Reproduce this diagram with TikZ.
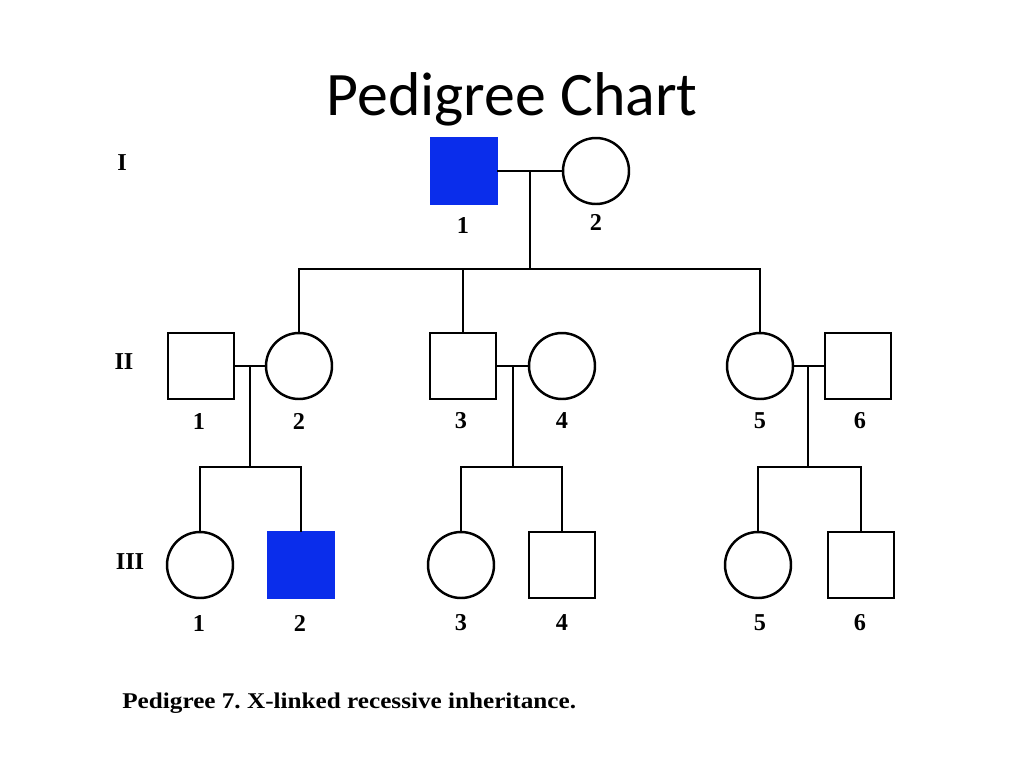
\documentclass[tikz,border=0pt]{standalone}
\usepackage{fontspec}
\setmainfont{Liberation Serif}
\newfontfamily\titleFont{Carlito}
\definecolor{affectedBlue}{RGB}{10,45,235}
\tikzset{
  person/.style={draw,line width=1.4pt,inner sep=0pt,outer sep=0pt,minimum size=1.32cm},
  male/.style={person,rectangle},
  female/.style={person,circle},
  affected/.style={fill=affectedBlue,draw=affectedBlue},
  num/.style={font=\fontsize{13.8}{15}\selectfont\bfseries,inner sep=0pt},
  link/.style={line width=1.5pt},
}
\begin{document}
\begin{tikzpicture}[x=0.02cm,y=-0.02cm]
  \useasboundingbox (0,0) rectangle (1024,768);
  \node[font=\titleFont\fontsize{35.2}{40}\selectfont] (title) at (512,99) {Pedigree Chart};
  % generation labels
  \node[num] (genI) at (122,163) {I};
  \node[num] (genII) at (124,362) {II};
  \node[num] (genIII) at (130,562) {III};
  % generation I
  \node[male,affected] (I1) at (464,171) {};
  \node[female] (I2) at (596,171) {};
  \node[num] (nI1) at (463,225) {1};
  \node[num] (nI2) at (596,222) {2};
  % generation II
  \node[male] (II1) at (201,366) {};
  \node[female] (II2) at (299,366) {};
  \node[male] (II3) at (463,366) {};
  \node[female] (II4) at (562,366) {};
  \node[female] (II5) at (760,366) {};
  \node[male] (II6) at (858,366) {};
  \foreach \i/\x in {1/199,2/299,3/461,4/562,5/760,6/860}
    \node[num] (nII\i) at (\x,421) {\i};
  % generation III
  \node[female] (III1) at (200,565) {};
  \node[male,affected] (III2) at (301,565) {};
  \node[female] (III3) at (461,565) {};
  \node[male] (III4) at (562,565) {};
  \node[female] (III5) at (758,565) {};
  \node[male] (III6) at (861,565) {};
  \foreach \i/\x in {1/199,2/300,3/461,4/562,5/760,6/860}
    \node[num] (nIII\i) at (\x,623) {\i};
  % marriages and sibships
  \coordinate (mateA) at (530,171);
  \coordinate (sibA) at (530,269);
  \coordinate (mateB) at (250,366);
  \coordinate (sibB) at (250,467);
  \coordinate (mateC) at (513,366);
  \coordinate (sibC) at (513,467);
  \coordinate (mateD) at (808,366);
  \coordinate (sibD) at (808,467);
  \draw[link] (I1) -- (I2);
  \draw[link] (mateA) -- (sibA);
  \draw[link] (II2.north) |- (sibA) -| (II5.north);
  \draw[link] (II3.north) -- (II3.north |- sibA);
  \draw[link] (II1) -- (II2);
  \draw[link] (II3) -- (II4);
  \draw[link] (II5) -- (II6);
  \draw[link] (mateB) -- (sibB);%<- drop to children
  \draw[link] (mateC) -- (sibC);
  \draw[link] (mateD) -- (sibD);
  \draw[link] (III1.north) |- (sibB) -| (III2.north);
  \draw[link] (III3.north) |- (sibC) -| (III4.north);
  \draw[link] (III5.north) |- (sibD) -| (III6.north);
  % caption
  \node[anchor=west,font=\addfontfeature{FakeStretch=1.12}\fontsize{12.8}{14}\selectfont\bfseries,inner sep=0pt] (caption) at (122,703) {Pedigree 7.\ X-linked recessive inheritance.};
\end{tikzpicture}
\end{document}
